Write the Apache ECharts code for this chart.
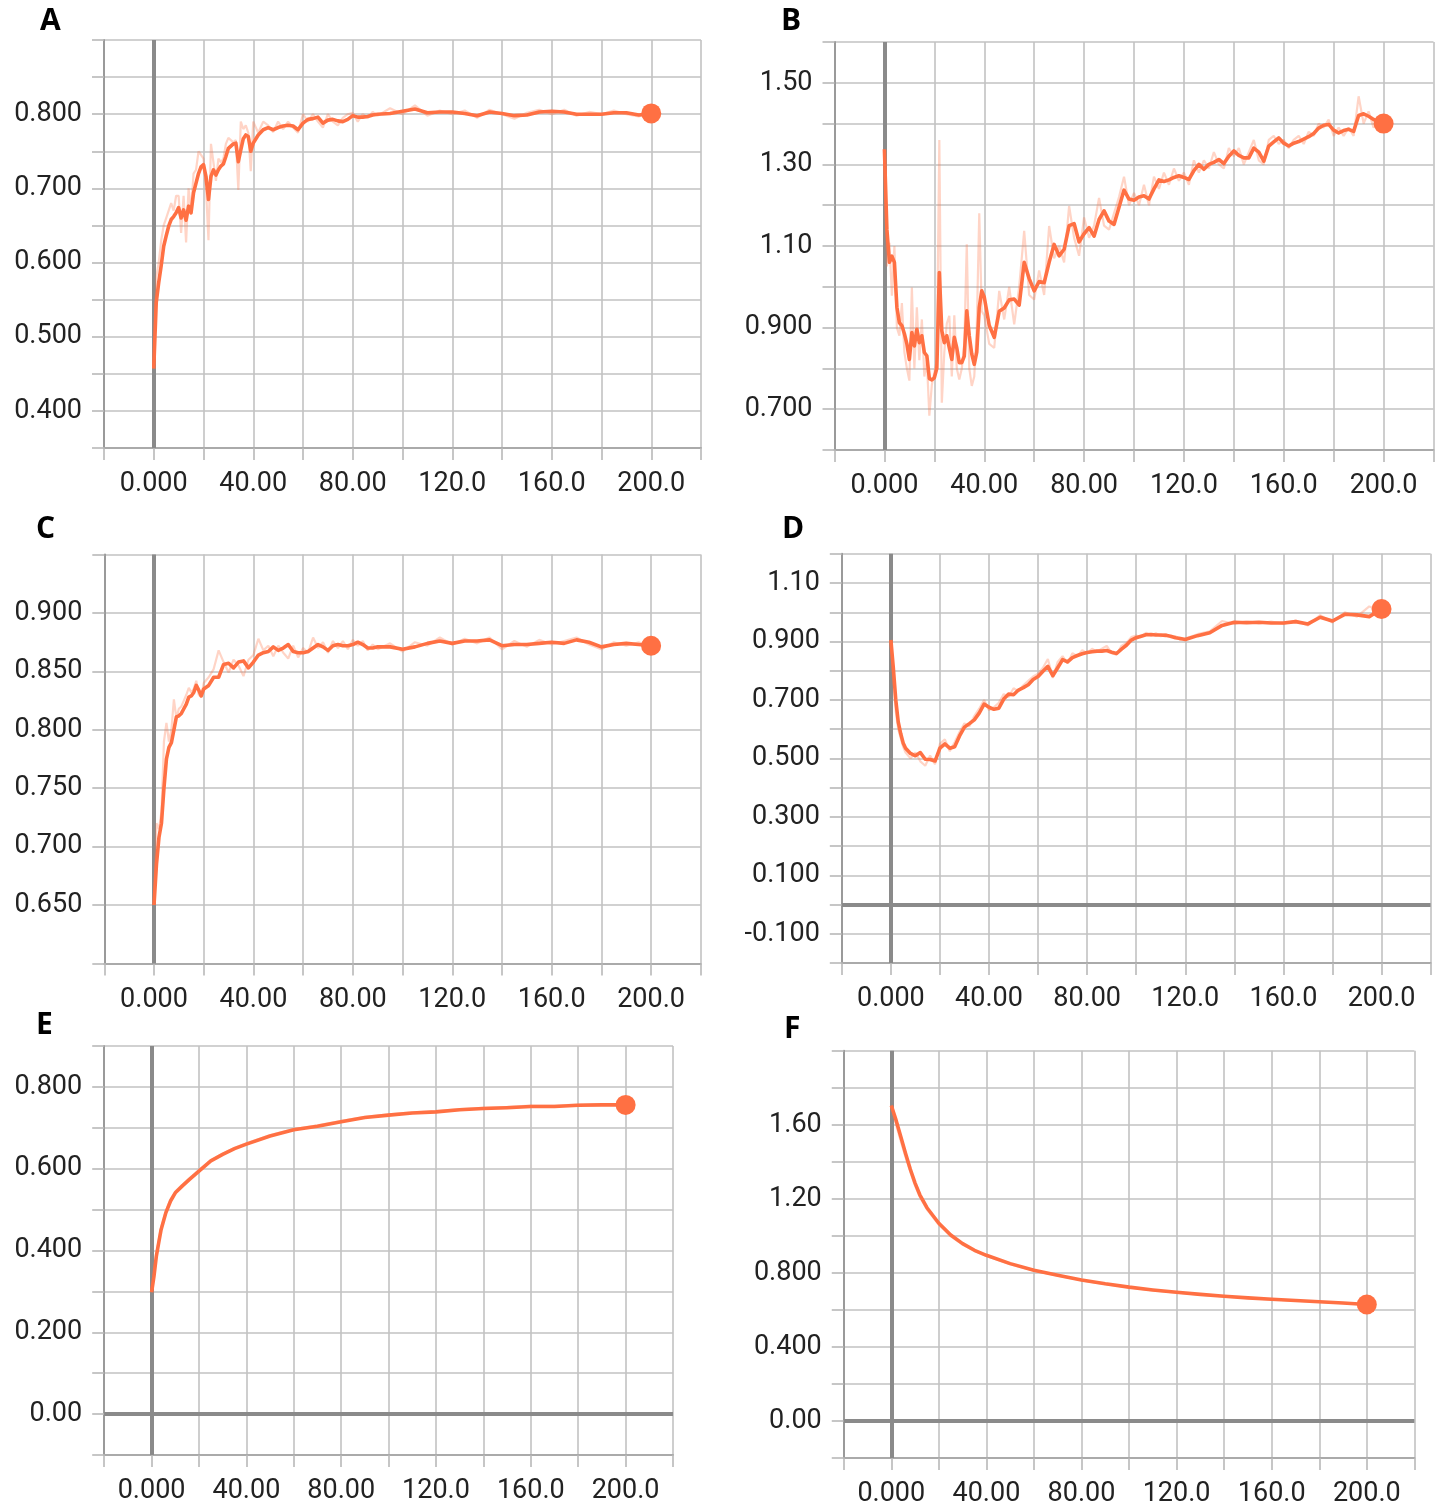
<!DOCTYPE html>
<html><head><meta charset="utf-8">
<script src="https://cdn.jsdelivr.net/npm/echarts/dist/echarts.min.js"></script>
<style>html,body{margin:0;padding:0;background:#fff}#c{width:1438px;height:1508px}</style>
</head><body><div id="c"></div>
<script>
// ---------- DATA ----------
const xTickVals = [0, 40, 80, 120, 160, 200];
const xTickLabels = ['0.000', '40.00', '80.00', '120.0', '160.0', '200.0'];

// Panel A
const xA = [0,1,2,3,4,5,6,7,8,9,10,11,12,13,14,15,16,17,18,19,20,21,22,23,24,25,26,27,28,29,30,31,32,33,34,35,36,37,38,39,40,
  42,44,46,48,50,52,54,56,58,60,62,64,66,68,70,72,74,76,78,80,82,84,86,88,90,
  95,100,105,110,115,120,125,130,135,140,145,150,155,160,165,170,175,180,185,190,195,200];
const smoothA = [0.457,0.546,0.573,0.596,0.622,0.636,0.649,0.658,0.662,0.667,0.674,0.660,0.671,0.657,0.676,0.667,0.694,0.707,0.720,0.729,0.732,0.716,0.685,0.716,0.725,0.718,0.725,0.730,0.733,0.743,0.754,0.757,0.760,0.761,0.736,0.752,0.767,0.772,0.770,0.750,0.761,
  0.772,0.779,0.782,0.779,0.782,0.784,0.785,0.784,0.779,0.788,0.793,0.794,0.796,0.788,0.792,0.793,0.791,0.790,0.793,0.798,0.796,0.796,0.797,0.799,0.800,
  0.801,0.804,0.807,0.802,0.803,0.803,0.801,0.798,0.803,0.801,0.798,0.799,0.803,0.804,0.803,0.800,0.800,0.800,0.802,0.802,0.799,0.801];
const rawA = [0.460,0.580,0.600,0.630,0.650,0.660,0.670,0.680,0.670,0.690,0.690,0.640,0.690,0.627,0.700,0.670,0.720,0.725,0.750,0.745,0.740,0.700,0.630,0.760,0.735,0.710,0.740,0.735,0.740,0.760,0.768,0.765,0.762,0.765,0.698,0.790,0.780,0.785,0.775,0.723,0.790,
  0.775,0.790,0.785,0.776,0.790,0.780,0.790,0.782,0.775,0.800,0.790,0.800,0.790,0.782,0.800,0.790,0.785,0.795,0.800,0.802,0.790,0.800,0.795,0.803,0.798,
  0.808,0.800,0.812,0.798,0.805,0.800,0.805,0.795,0.806,0.800,0.794,0.802,0.806,0.800,0.806,0.798,0.803,0.800,0.805,0.800,0.797,0.803];
const yTickValsA = [0.4, 0.5, 0.6, 0.7, 0.8];
const yTickLabelsA = ['0.400', '0.500', '0.600', '0.700', '0.800'];

// Panel B
const xB = [0,1,2,3,4,5,6,7,8,9,10,11,12,13,14,15,16,17,18,19,20,21,22,23,24,25,26,27,28,29,30,31,32,33,34,35,36,37,38,39,40,
  42,44,46,48,50,52,54,56,58,60,62,64,66,68,70,72,74,76,78,80,82,84,86,88,90,92,94,96,98,100,
  102,104,106,108,110,112,114,116,118,120,122,124,126,128,130,132,134,136,138,140,142,144,146,148,150,
  152,154,156,158,160,162,164,166,168,170,172,174,176,178,180,182,184,186,188,190,192,194,196,198,200];
const smoothB = [1.337,1.14,1.06,1.075,1.06,0.95,0.912,0.905,0.885,0.86,0.822,0.888,0.855,0.896,0.863,0.88,0.839,0.831,0.775,0.772,0.777,0.80,1.035,0.892,0.863,0.88,0.85,0.822,0.876,0.85,0.814,0.814,0.83,0.941,0.88,0.835,0.81,0.84,0.95,0.99,0.975,
  0.905,0.876,0.94,0.948,0.968,0.97,0.955,1.06,1.02,0.99,1.013,1.01,1.06,1.104,1.076,1.092,1.15,1.155,1.11,1.13,1.145,1.124,1.165,1.186,1.161,1.153,1.195,1.237,1.215,1.212,
  1.22,1.223,1.215,1.24,1.262,1.258,1.262,1.268,1.272,1.268,1.263,1.285,1.30,1.288,1.30,1.305,1.312,1.302,1.32,1.333,1.322,1.316,1.316,1.34,1.33,
  1.308,1.345,1.355,1.365,1.352,1.345,1.352,1.356,1.362,1.368,1.376,1.389,1.396,1.398,1.384,1.377,1.383,1.386,1.381,1.42,1.424,1.418,1.41,1.405,1.40];
const rawB = [1.337,1.05,1.108,0.978,1.10,0.90,0.88,0.96,0.84,0.80,0.77,0.998,0.80,0.95,0.82,0.92,0.78,0.82,0.684,0.76,0.79,0.82,1.36,0.716,0.84,0.91,0.929,0.78,0.93,0.80,0.773,0.80,0.86,1.104,0.80,0.757,0.78,0.90,1.18,0.94,0.93,
  0.86,0.85,0.99,0.92,1.00,0.908,1.00,1.137,0.98,0.969,1.04,0.98,1.149,1.07,1.10,1.06,1.198,1.12,1.076,1.17,1.12,1.15,1.218,1.15,1.14,1.18,1.22,1.27,1.20,1.23,
  1.20,1.25,1.20,1.27,1.24,1.28,1.25,1.29,1.26,1.28,1.25,1.31,1.28,1.31,1.29,1.33,1.30,1.29,1.34,1.32,1.34,1.30,1.33,1.36,1.31,
  1.30,1.36,1.37,1.35,1.36,1.34,1.36,1.37,1.35,1.38,1.37,1.40,1.39,1.41,1.37,1.39,1.37,1.39,1.37,1.467,1.40,1.43,1.39,1.41,1.395];
const yTickValsB = [0.7, 0.9, 1.1, 1.3, 1.5];
const yTickLabelsB = ['0.700', '0.900', '1.10', '1.30', '1.50'];

// Panel C
const xC = [0,1,2,3,4,5,6,7,8,9,10,11,12,13,14,15,16,17,18,19,20,
  22,24,26,28,30,32,34,36,38,40,42,44,46,48,50,52,54,56,58,60,62,64,66,68,70,72,74,76,78,80,82,84,86,88,90,
  95,100,105,110,115,120,125,130,135,140,145,150,155,160,165,170,175,180,185,190,195,200];
const smoothC = [0.65,0.685,0.708,0.72,0.75,0.775,0.785,0.789,0.80,0.811,0.812,0.814,0.818,0.822,0.828,0.829,0.832,0.838,0.834,0.829,0.835,
  0.838,0.845,0.845,0.856,0.857,0.853,0.858,0.859,0.853,0.858,0.864,0.866,0.867,0.871,0.868,0.87,0.873,0.867,0.866,0.866,
  0.867,0.87,0.873,0.871,0.868,0.872,0.873,0.872,0.872,0.873,0.875,0.873,0.87,0.87,0.871,
  0.871,0.869,0.871,0.874,0.876,0.874,0.876,0.876,0.877,0.872,0.873,0.873,0.874,0.875,0.874,0.877,0.875,0.871,0.873,0.874,0.873,0.872];
const rawC = [0.65,0.72,0.715,0.73,0.79,0.806,0.79,0.80,0.826,0.81,0.818,0.82,0.825,0.83,0.836,0.832,0.835,0.842,0.83,0.828,0.84,
  0.845,0.852,0.868,0.858,0.849,0.86,0.855,0.846,0.86,0.864,0.878,0.868,0.872,0.863,0.872,0.866,0.861,0.872,0.862,0.87,
  0.866,0.879,0.87,0.875,0.866,0.876,0.87,0.876,0.869,0.877,0.872,0.876,0.868,0.873,0.869,
  0.874,0.867,0.875,0.872,0.879,0.873,0.878,0.874,0.879,0.869,0.876,0.871,0.877,0.873,0.876,0.879,0.873,0.869,0.875,0.872,0.875,0.871];
const yTickValsC = [0.65, 0.7, 0.75, 0.8, 0.85, 0.9];
const yTickLabelsC = ['0.650', '0.700', '0.750', '0.800', '0.850', '0.900'];

// Panel D
const xD = [0,1,2,3,4,5,6,
  8,10,12,14,16,18,20,22,24,26,28,30,32,34,36,38,40,42,44,46,48,50,52,54,56,58,60,62,64,66,68,70,72,74,76,78,80,
  82,84,86,88,90,92,94,96,98,100,102,104,106,108,110,112,114,116,118,120,
  125,130,135,140,145,150,155,160,165,170,175,180,185,190,195,200];
const smoothD = [0.905,0.81,0.70,0.625,0.585,0.553,0.535,
  0.517,0.509,0.52,0.497,0.496,0.491,0.535,0.55,0.535,0.54,0.577,0.607,0.619,0.632,0.655,0.686,0.675,0.668,0.672,0.703,
  0.72,0.718,0.734,0.742,0.752,0.77,0.78,0.798,0.815,0.783,0.81,0.838,0.83,0.845,0.852,0.858,0.862,0.865,0.867,0.867,
  0.869,0.863,0.859,0.874,0.887,0.905,0.913,0.918,0.923,0.924,0.922,0.922,0.921,0.918,0.913,0.91,0.907,
  0.92,0.93,0.955,0.966,0.964,0.966,0.963,0.963,0.968,0.96,0.983,0.97,0.993,0.991,0.985,1.011];
const rawD = [0.905,0.76,0.66,0.60,0.57,0.54,0.52,
  0.50,0.52,0.49,0.475,0.51,0.48,0.55,0.565,0.525,0.555,0.59,0.62,0.61,0.645,0.67,0.70,0.665,0.675,0.69,0.72,
  0.71,0.74,0.73,0.75,0.765,0.78,0.79,0.81,0.84,0.775,0.83,0.85,0.825,0.86,0.85,0.87,0.86,0.875,0.865,0.875,
  0.885,0.86,0.855,0.885,0.895,0.915,0.92,0.915,0.93,0.92,0.928,0.918,0.926,0.915,0.918,0.905,0.91,
  0.925,0.935,0.97,0.96,0.97,0.962,0.968,0.96,0.972,0.955,0.99,0.965,1.0,0.985,1.02,1.005];
const yTickValsD = [-0.1, 0.1, 0.3, 0.5, 0.7, 0.9, 1.1];
const yTickLabelsD = ['-0.100', '0.100', '0.300', '0.500', '0.700', '0.900', '1.10'];

// Panel E
const xE = [0,1,2,3,4,6,8,10,13,16,20,25,30,35,40,50,60,70,80,90,100,110,120,130,140,150,160,170,180,190,200];
const smoothE = [0.298,0.337,0.386,0.419,0.451,0.492,0.521,0.541,0.558,0.574,0.594,0.619,0.635,0.649,0.66,0.68,0.695,0.704,0.715,0.725,0.731,0.736,0.739,0.744,0.747,0.749,0.752,0.752,0.755,0.756,0.756];
const rawE = [0.298,0.345,0.392,0.425,0.456,0.497,0.525,0.544,0.561,0.577,0.597,0.621,0.637,0.651,0.662,0.682,0.697,0.706,0.717,0.727,0.733,0.738,0.741,0.746,0.749,0.751,0.754,0.754,0.757,0.758,0.758];
const yTickValsE = [0, 0.2, 0.4, 0.6, 0.8];
const yTickLabelsE = ['0.00', '0.200', '0.400', '0.600', '0.800'];

// Panel F
const xF = [0,2,4,6,8,10,12,15,20,25,30,35,40,50,60,70,80,90,100,110,120,130,140,150,160,170,180,190,200];
const smoothF = [1.704,1.625,1.535,1.445,1.36,1.285,1.222,1.152,1.068,1.005,0.958,0.922,0.895,0.85,0.814,0.787,0.762,0.741,0.723,0.708,0.695,0.684,0.674,0.665,0.658,0.651,0.644,0.637,0.629];
const rawF = [1.704,1.60,1.51,1.425,1.345,1.27,1.21,1.142,1.06,0.998,0.953,0.918,0.892,0.847,0.812,0.785,0.76,0.739,0.721,0.706,0.693,0.682,0.673,0.664,0.657,0.650,0.643,0.636,0.628];
const yTickValsF = [0, 0.4, 0.8, 1.2, 1.6];
const yTickLabelsF = ['0.00', '0.400', '0.800', '1.20', '1.60'];

// ---------- LAYOUT / STYLE ----------
const panels = [
  {name:'A', x:xA, s:smoothA, r:rawA, yMin:0.35, yMax:0.9,  yStep:0.05, tv:yTickValsA, tl:yTickLabelsA, zeroY:false,
   grid:{left:104, top:40, width:597, height:408}, title:{left:40, top:6}},
  {name:'B', x:xB, s:smoothB, r:rawB, yMin:0.6,  yMax:1.6,  yStep:0.1,  tv:yTickValsB, tl:yTickLabelsB, zeroY:false,
   grid:{left:834.5, top:42, width:599, height:408}, title:{left:781, top:6}},
  {name:'C', x:xC, s:smoothC, r:rawC, yMin:0.6,  yMax:0.95, yStep:0.05, tv:yTickValsC, tl:yTickLabelsC, zeroY:false,
   grid:{left:104.3, top:554.6, width:596.5, height:408.8}, title:{left:36, top:514}},
  {name:'D', x:xD, s:smoothD, r:rawD, yMin:-0.2, yMax:1.2,  yStep:0.1,  tv:yTickValsD, tl:yTickLabelsD, zeroY:true,
   grid:{left:841.8, top:553.8, width:588.8, height:409.2}, title:{left:782, top:514}},
  {name:'E', x:xE, s:smoothE, r:rawE, yMin:-0.1, yMax:0.9,  yStep:0.1,  tv:yTickValsE, tl:yTickLabelsE, zeroY:true,
   grid:{left:104.2, top:1046, width:568.8, height:409}, title:{left:36, top:1010}},
  {name:'F', x:xF, s:smoothF, r:rawF, yMin:-0.2, yMax:2.0,  yStep:0.2,  tv:yTickValsF, tl:yTickLabelsF, zeroY:true,
   grid:{left:843.75, top:1050.75, width:570.6, height:408.4}, title:{left:784, top:1014}}
];

const LINE = '#FF7043';
const RAW = 'rgba(255,112,67,0.3)';
const GRIDC = '#c2c2c2';
const FONT = 'Roboto, "Liberation Sans", sans-serif';

function pick(vals, labels) {
  return function (v) {
    for (let i = 0; i < vals.length; i++) if (Math.abs(v - vals[i]) < 1e-6) return labels[i];
    return '';
  };
}
function zip(a, b) { return a.map((v, i) => [v, b[i]]); }

const option = {animation:false, backgroundColor:'#fff', title:[], grid:[], xAxis:[], yAxis:[], series:[]};

panels.forEach((p, i) => {
  option.title.push({text:p.name, left:p.title.left, top:p.title.top, padding:0,
    textStyle:{fontFamily:'"Open Sans", "Liberation Sans", sans-serif', fontWeight:'bold', fontSize:30, color:'#000'}});
  option.grid.push(Object.assign({containLabel:false}, p.grid));
  option.xAxis.push({type:'value', gridIndex:i, min:-20, max:220, interval:20,
    axisLine:{show:true, onZero:false, lineStyle:{color:'#aaaaaa', width:2}},
    axisTick:{show:true, length:12, lineStyle:{color:'#b8b8b8', width:1.6}},
    splitLine:{show:true, lineStyle:{color:GRIDC, width:1.6}},
    axisLabel:{formatter:pick(xTickVals, xTickLabels), fontSize:27, color:'#222', margin:23, fontFamily:FONT}});
  option.yAxis.push({type:'value', gridIndex:i, min:p.yMin, max:p.yMax, interval:p.yStep,
    axisLine:{show:true, onZero:false, lineStyle:{color:'#9a9a9a', width:2}},
    axisTick:{show:true, length:12, lineStyle:{color:'#b8b8b8', width:1.6}},
    splitLine:{show:true, lineStyle:{color:GRIDC, width:1.6}},
    axisLabel:{formatter:pick(p.tv, p.tl), fontSize:27, color:'#222', margin:22, fontFamily:FONT}});
  const ml = [{xAxis:0}];
  if (p.zeroY) ml.push({yAxis:0});
  option.series.push({type:'line', xAxisIndex:i, yAxisIndex:i, data:zip(p.x, p.r), symbol:'none', silent:true, z:2,
    smooth:false, lineStyle:{color:RAW, width:2.2},
    markLine:{silent:true, z:1, symbol:['none','none'], label:{show:false}, emphasis:{disabled:true},
      lineStyle:{color:'#8a8a8a', width:4, type:'solid'}, data:ml}});
  option.series.push({type:'line', xAxisIndex:i, yAxisIndex:i, data:zip(p.x, p.s), symbol:'none', silent:true, z:3,
    smooth:false, lineStyle:{color:LINE, width:3.6, join:'round'}});
  option.series.push({type:'scatter', xAxisIndex:i, yAxisIndex:i, silent:true, z:4,
    data:[[p.x[p.x.length - 1], p.s[p.s.length - 1]]], symbolSize:20, itemStyle:{color:LINE, opacity:1}});
});

const chart = echarts.init(document.getElementById('c'), null, {renderer:'canvas'});
chart.setOption(option);
</script></body></html>
